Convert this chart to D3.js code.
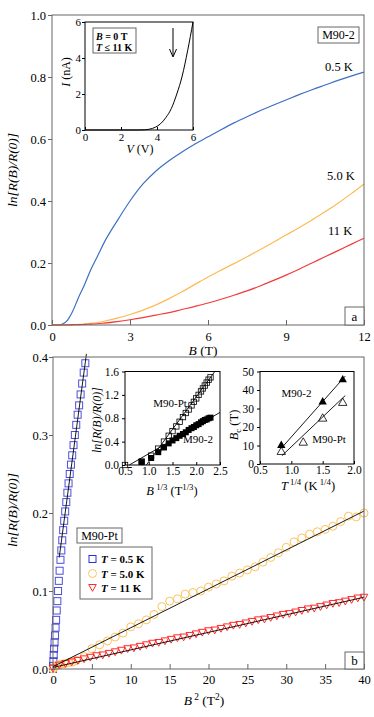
<!DOCTYPE html>
<html>
<head>
<meta charset="utf-8">
<script src="https://cdn.jsdelivr.net/npm/d3@7"></script>
<style>
  body { margin: 0; background: #fff; }
  svg text { font-family: "Liberation Serif", "Times New Roman", "DejaVu Serif", serif; fill: #000; }
</style>
</head>
<body>
<svg id="vis" width="374" height="717"></svg>
<script>
// ---- panel a: ln[R(B)/R(0)] vs B for M90-2 ----
const fieldB = [0, 0.2, 0.4, 0.6, 0.8, 1.0, 1.25, 1.5, 1.75, 2, 2.5, 3, 3.5, 4, 4.5, 5, 5.5, 6, 6.5, 7, 7.5, 8, 8.5, 9, 9.5, 10, 10.5, 11, 11.5, 12];
const lnR05K = [0, 0, 0.003, 0.016, 0.045, 0.085, 0.13, 0.18, 0.222, 0.265, 0.335, 0.4, 0.455, 0.497, 0.53, 0.558, 0.584, 0.607, 0.63, 0.652, 0.672, 0.691, 0.709, 0.726, 0.743, 0.759, 0.774, 0.789, 0.803, 0.816];
const lnR50K = [0, 0, 0, 0.001, 0.001, 0.002, 0.003, 0.005, 0.008, 0.012, 0.022, 0.034, 0.048, 0.065, 0.085, 0.107, 0.131, 0.155, 0.177, 0.198, 0.22, 0.243, 0.266, 0.29, 0.314, 0.339, 0.365, 0.393, 0.423, 0.455];
const lnR11K = [0, 0, 0, 0, 0.001, 0.001, 0.002, 0.003, 0.004, 0.006, 0.011, 0.017, 0.024, 0.032, 0.04, 0.05, 0.06, 0.071, 0.083, 0.096, 0.11, 0.126, 0.143, 0.161, 0.18, 0.2, 0.22, 0.24, 0.26, 0.28];
const curveLabels = ['0.5 K', '5.0 K', '11 K'];

// inset of panel a: I-V at B = 0
const ivV = [0, 1, 2, 3, 3.3, 3.6, 3.9, 4.2, 4.5, 4.8, 5.1, 5.4, 5.7, 6.0];
const ivI = [0, 0, 0, 0, 0.01, 0.05, 0.15, 0.35, 0.7, 1.2, 2.0, 3.0, 4.4, 6.0];

// ---- panel b: ln[R(B)/R(0)] vs B^2 for M90-Pt ----
const sqB2 = [0, 0.02, 0.05, 0.09, 0.14, 0.2, 0.26, 0.33, 0.4, 0.48, 0.56, 0.65, 0.75, 0.85, 0.96, 1.07, 1.19, 1.31, 1.44, 1.57, 1.71, 1.85, 2.0, 2.15, 2.31, 2.47, 2.64, 2.81, 2.99, 3.17, 3.36, 3.55, 3.75, 3.95, 4.16];
const sqLnR05 = [0, 0.004, 0.01, 0.018, 0.026, 0.034, 0.043, 0.053, 0.063, 0.075, 0.087, 0.1, 0.113, 0.126, 0.14, 0.152, 0.165, 0.178, 0.19, 0.202, 0.214, 0.226, 0.238, 0.25, 0.262, 0.274, 0.287, 0.3, 0.313, 0.326, 0.338, 0.352, 0.366, 0.38, 0.392];

const ciB2 = [0, 0.15, 0.4, 0.7, 1.0, 1.5, 2, 2.5, 3, 4, 5, 6, 7, 8, 9, 10, 11, 12, 13, 14, 15, 16, 17, 18, 19, 20, 21, 22, 23, 24, 25, 26, 27, 28, 29, 30, 31, 32, 33, 34, 35, 36, 37, 38, 39, 40];
const ciLnR50 = [0, 0.002, 0.004, 0.005, 0.006, 0.007, 0.008, 0.009, 0.011, 0.016, 0.026, 0.031, 0.036, 0.041, 0.046, 0.054, 0.058, 0.063, 0.07, 0.08, 0.087, 0.09, 0.096, 0.098, 0.1, 0.105, 0.109, 0.113, 0.119, 0.123, 0.127, 0.131, 0.137, 0.143, 0.149, 0.156, 0.163, 0.168, 0.173, 0.176, 0.179, 0.183, 0.189, 0.196, 0.195, 0.2];

const trB2 = [0, 0.8, 1.6, 2.4, 3.2, 4.0, 4.8, 5.6, 6.4, 7.2, 8.0, 8.8, 9.6, 10.4, 11.2, 12.0, 12.8, 13.6, 14.4, 15.2, 16.0, 16.8, 17.6, 18.4, 19.2, 20.0, 20.8, 21.6, 22.4, 23.2, 24.0, 24.8, 25.6, 26.4, 27.2, 28.0, 28.8, 29.6, 30.4, 31.2, 32.0, 32.8, 33.6, 34.4, 35.2, 36.0, 36.8, 37.6, 38.4, 39.2, 40.0];
const trLnR11 = [0.001, 0.005, 0.007, 0.009, 0.011, 0.013, 0.015, 0.017, 0.018, 0.02, 0.022, 0.024, 0.026, 0.027, 0.029, 0.031, 0.033, 0.034, 0.036, 0.038, 0.04, 0.041, 0.043, 0.045, 0.047, 0.049, 0.05, 0.052, 0.054, 0.056, 0.057, 0.059, 0.061, 0.063, 0.064, 0.066, 0.068, 0.07, 0.071, 0.073, 0.075, 0.077, 0.078, 0.08, 0.082, 0.084, 0.085, 0.087, 0.089, 0.091, 0.092];

// linear fits drawn over the symbols: [x0, y0, x1, y1]
const fit05 = [0.8, 0.143, 4.3, 0.404];
const fit50 = [0, 0.003, 40, 0.2025];
const fit11 = [0, 0.002, 40, 0.092];

const legendLabels = ['0.5 K', '5.0 K', '11 K'];

// inset 1 of panel b: ln vs B^(1/3)
const b13Pt = [0.5, 0.85, 1.05, 1.2, 1.32, 1.42, 1.5, 1.58, 1.65, 1.72, 1.78, 1.84, 1.9, 1.95, 2.0, 2.05, 2.1, 2.14, 2.18, 2.22, 2.26, 2.3];
const lnPt = [0, 0.06, 0.16, 0.28, 0.4, 0.5, 0.58, 0.66, 0.74, 0.82, 0.89, 0.95, 1.02, 1.08, 1.14, 1.2, 1.26, 1.31, 1.36, 1.41, 1.46, 1.5];
const b13M2 = [0.85, 1.05, 1.2, 1.32, 1.42, 1.5, 1.58, 1.65, 1.72, 1.78, 1.84, 1.9, 1.95, 2.0, 2.05, 2.1, 2.14, 2.18, 2.22, 2.26, 2.3];
const lnM2 = [0.05, 0.12, 0.22, 0.3, 0.37, 0.42, 0.46, 0.5, 0.53, 0.56, 0.6, 0.63, 0.65, 0.68, 0.7, 0.73, 0.75, 0.77, 0.78, 0.8, 0.81];
const fitPt13 = [0.95, 0, 2.4, 1.61];
const fitM213 = [0.59, 0, 2.5, 0.9];

// inset 2 of panel b: Bc vs T^(1/4)
const t14M2 = [0.84, 1.5, 1.82];
const bcM2 = [10.5, 34, 46];
const t14Pt = [0.84, 1.19, 1.5, 1.82];
const bcPt = [7, 12, 25, 33.5];
const fitBcM2 = [0.84, 8.5, 1.86, 47.5];
const fitBcPt = [0.85, 4.5, 1.86, 37];

const svg = d3.select('#vis');
const frameColor = '#666';
const serif = '"Liberation Serif", "Times New Roman", "DejaVu Serif", serif';

// text helper with italic / bold / super- and subscript parts
function rich(parent, x, y, parts, size, anchor, rotate) {
  const t = parent.append('text')
    .attr('x', x).attr('y', y)
    .attr('font-size', size)
    .attr('text-anchor', anchor || 'middle');
  if (rotate) t.attr('transform', `rotate(${rotate},${x},${y})`);
  let shift = 0;
  parts.forEach(p => {
    const s = t.append('tspan').text(p.t);
    const target = p.sup ? -size * 0.4 : p.sub ? size * 0.25 : 0;
    if (target !== shift) {
      s.attr('dy', target - shift);
      shift = target;
    }
    if (p.sup || p.sub) s.attr('font-size', size * 0.7);
    if (p.i) s.attr('font-style', 'italic');
    if (p.b) s.attr('font-weight', 'bold');
  });
  return t;
}

function styleAxis(g, size, color) {
  g.attr('font-family', null).attr('font-size', size);
  g.select('.domain').remove();
  g.selectAll('.tick line').attr('stroke', color);
  g.selectAll('.tick text').attr('fill', '#000');
}

function box(x, y, w, h, color) {
  svg.append('rect')
    .attr('x', x).attr('y', y).attr('width', w).attr('height', h)
    .attr('fill', 'none').attr('stroke', color || frameColor).attr('stroke-width', 1);
}

function labelBox(x, y, w, h, label, size) {
  svg.append('rect')
    .attr('x', x).attr('y', y).attr('width', w).attr('height', h)
    .attr('fill', '#fff').attr('stroke', frameColor);
  svg.append('text')
    .attr('x', x + w / 2).attr('y', y + h / 2 + size * 0.35)
    .attr('text-anchor', 'middle').attr('font-size', size)
    .text(label);
}

function fitLine(g, xs, ys, f) {
  g.append('line')
    .attr('x1', xs(f[0])).attr('y1', ys(f[1]))
    .attr('x2', xs(f[2])).attr('y2', ys(f[3]))
    .attr('stroke', '#000').attr('stroke-width', 0.9);
}

// ================= panel a =================
const xA = d3.scaleLinear().domain([0, 12]).range([52, 364]);
const yA = d3.scaleLinear().domain([0, 1]).range([325, 15]);

svg.append('g')
  .attr('transform', 'translate(0,325)')
  .call(d3.axisBottom(xA).tickValues([0, 3, 6, 9, 12]).tickSizeInner(-5).tickSizeOuter(0).tickPadding(7).tickFormat(d3.format('d')))
  .call(g => styleAxis(g, 12.5, frameColor));
svg.append('g')
  .attr('transform', 'translate(52,0)')
  .call(d3.axisLeft(yA).tickValues([0, 0.2, 0.4, 0.6, 0.8, 1.0]).tickSizeInner(4).tickSizeOuter(0).tickPadding(2).tickFormat(d3.format('.1f')))
  .call(g => styleAxis(g, 12.5, frameColor));

const lineA = d3.line()
  .x((d, i) => xA(fieldB[i]))
  .y(d => yA(d))
  .curve(d3.curveMonotoneX);

const seriesA = [
  { values: lnR05K, color: '#3d6fc4' },
  { values: lnR50K, color: '#fdbb55' },
  { values: lnR11K, color: '#f23b3b' },
];
seriesA.forEach(s => {
  svg.append('path')
    .attr('d', lineA(s.values))
    .attr('fill', 'none')
    .attr('stroke', s.color)
    .attr('stroke-width', 1.2);
});

box(52, 15, 312, 310);

// curve labels
[[325, 71], [327, 180], [328, 235]].forEach((p, i) => {
  svg.append('text').attr('x', p[0]).attr('y', p[1]).attr('font-size', 12.5).text(curveLabels[i]);
});
labelBox(318, 27, 41, 16, 'M90-2', 12);
labelBox(345, 307, 19, 18, 'a', 13);

rich(svg, 17, 170, [{ t: 'ln[R(B)/R(0)]', i: true }], 13.5, 'middle', -90);
rich(svg, 203, 355, [{ t: 'B', i: true }, { t: ' (T)' }], 13.5, 'middle');

// inset: I-V
const xI = d3.scaleLinear().domain([0, 6]).range([85, 193]);
const yI = d3.scaleLinear().domain([0, 6]).range([130, 22]);
svg.append('rect').attr('x', 85).attr('y', 22).attr('width', 108).attr('height', 108).attr('fill', '#fff');
svg.append('g')
  .attr('transform', 'translate(0,130)')
  .call(d3.axisBottom(xI).tickValues([0, 2, 4, 6]).tickSizeInner(-3).tickSizeOuter(0).tickPadding(3).tickFormat(d3.format('d')))
  .call(g => styleAxis(g, 11, '#000'));
svg.append('g')
  .attr('transform', 'translate(85,0)')
  .call(d3.axisLeft(yI).tickValues([0, 2, 4, 6]).tickSizeInner(3).tickSizeOuter(0).tickPadding(1).tickFormat(d3.format('d')))
  .call(g => styleAxis(g, 11, '#000'));
svg.append('path')
  .attr('d', d3.line().x((d, i) => xI(ivV[i])).y(d => yI(d)).curve(d3.curveMonotoneX)(ivI))
  .attr('fill', 'none').attr('stroke', '#000').attr('stroke-width', 1);
box(85, 22, 108, 108, '#000');

// arrow
svg.append('line').attr('x1', 173).attr('y1', 28).attr('x2', 173).attr('y2', 56).attr('stroke', '#000');
svg.append('path').attr('d', 'M169.5,49 L173,57 L176.5,49').attr('fill', 'none').attr('stroke', '#000');

svg.append('rect').attr('x', 93).attr('y', 28).attr('width', 43).attr('height', 25).attr('fill', '#fff').attr('stroke', frameColor);
rich(svg, 96, 40, [{ t: 'B', i: true, b: true }, { t: ' = 0 T', b: true }], 10, 'start');
rich(svg, 96, 50.5, [{ t: 'T', i: true, b: true }, { t: ' ≤ 11 K', b: true }], 10, 'start');

rich(svg, 70, 72, [{ t: 'I', i: true }, { t: ' (nA)' }], 12, 'middle', -90);
rich(svg, 140, 153, [{ t: 'V', i: true }, { t: ' (V)' }], 12, 'middle');

// ================= panel b =================
const xB = d3.scaleLinear().domain([0, 40]).range([53, 364]);
const yB = d3.scaleLinear().domain([0, 0.4]).range([669, 357]);

svg.append('g')
  .attr('transform', 'translate(0,669)')
  .call(d3.axisBottom(xB).tickValues(d3.range(0, 41, 5)).tickSizeInner(-5).tickSizeOuter(0).tickPadding(6).tickFormat(d3.format('d')))
  .call(g => styleAxis(g, 12.5, frameColor));
svg.append('g')
  .attr('transform', 'translate(53,0)')
  .call(d3.axisLeft(yB).tickValues([0, 0.1, 0.2, 0.3, 0.4]).tickSizeInner(4).tickSizeOuter(0).tickPadding(1).tickFormat(d3.format('.1f')))
  .call(g => styleAxis(g, 12.5, frameColor));

const plotB = svg.append('g');
const blueSq = '#2e2ed6';
const orangeCi = '#fdc35e';
const redTr = '#ff2a2a';
const triPath = 'M-3.8,-3 L3.8,-3 L0,3.8 Z';

plotB.selectAll('rect.sq')
  .data(sqLnR05)
  .enter()
  .append('rect')
  .attr('class', 'sq')
  .attr('x', (d, i) => xB(sqB2[i]) - 3.5)
  .attr('y', d => yB(d) - 3.5)
  .attr('width', 7).attr('height', 7)
  .attr('fill', 'none').attr('stroke', blueSq).attr('stroke-width', 1).attr('stroke-opacity', 0.85);

plotB.selectAll('circle.ci')
  .data(ciLnR50)
  .enter()
  .append('circle')
  .attr('class', 'ci')
  .attr('cx', (d, i) => xB(ciB2[i]))
  .attr('cy', d => yB(d))
  .attr('r', 4)
  .attr('fill', 'none').attr('stroke', orangeCi).attr('stroke-width', 1);

plotB.selectAll('path.tr')
  .data(trLnR11)
  .enter()
  .append('path')
  .attr('class', 'tr')
  .attr('transform', (d, i) => `translate(${xB(trB2[i])},${yB(d)})`)
  .attr('d', triPath)
  .attr('fill', 'none').attr('stroke', redTr).attr('stroke-width', 1);

fitLine(plotB, xB, yB, fit05);
fitLine(plotB, xB, yB, fit50);
fitLine(plotB, xB, yB, fit11);

box(53, 357, 311, 312);
labelBox(345, 652, 19, 17, 'b', 13);
labelBox(77, 528, 45, 15, 'M90-Pt', 12);

// legend
svg.append('rect').attr('x', 80).attr('y', 547).attr('width', 72).attr('height', 52).attr('fill', '#fff').attr('stroke', frameColor);
const legY = [559, 573.5, 588];
svg.append('rect').attr('x', 89).attr('y', legY[0] - 3.5).attr('width', 7).attr('height', 7).attr('fill', 'none').attr('stroke', blueSq);
svg.append('circle').attr('cx', 92.5).attr('cy', legY[1]).attr('r', 4).attr('fill', 'none').attr('stroke', orangeCi);
svg.append('path').attr('transform', `translate(92.5,${legY[2] - 0.5})`).attr('d', triPath).attr('fill', 'none').attr('stroke', redTr);
legendLabels.forEach((lab, i) => {
  rich(svg, 101, legY[i] + 4, [{ t: 'T', i: true, b: true }, { t: ' = ' + lab, b: true }], 11, 'start');
});

rich(svg, 17, 510, [{ t: 'ln[R(B)/R(0)]', i: true }], 13.5, 'middle', -90);
rich(svg, 204, 705, [{ t: 'B', i: true }, { t: ' 2', sup: true }, { t: ' (T' }, { t: '2', sup: true }, { t: ')' }], 13.5, 'middle');

// inset 1: ln vs B^(1/3)
const x1 = d3.scaleLinear().domain([0.5, 2.5]).range([125, 220]);
const y1 = d3.scaleLinear().domain([0, 1.6]).range([465, 371.5]);
svg.append('g')
  .attr('transform', 'translate(0,465)')
  .call(d3.axisBottom(x1).tickValues([0.5, 1.0, 1.5, 2.0, 2.5]).tickSizeInner(-3).tickSizeOuter(0).tickPadding(2).tickFormat(d3.format('.1f')))
  .call(g => styleAxis(g, 11.5, '#000'));
svg.append('g')
  .attr('transform', 'translate(125,0)')
  .call(d3.axisLeft(y1).tickValues([0, 0.4, 0.8, 1.2, 1.6]).tickSizeInner(3).tickSizeOuter(0).tickPadding(3).tickFormat(d3.format('.1f')))
  .call(g => styleAxis(g, 11.5, '#000'));
const in1 = svg.append('g');
in1.selectAll('rect.pt')
  .data(lnPt)
  .enter()
  .append('rect')
  .attr('class', 'pt')
  .attr('x', (d, i) => x1(b13Pt[i]) - 2.7)
  .attr('y', d => y1(d) - 2.7)
  .attr('width', 5.4).attr('height', 5.4)
  .attr('fill', 'none').attr('stroke', '#000').attr('stroke-width', 0.8);
in1.selectAll('rect.m2')
  .data(lnM2)
  .enter()
  .append('rect')
  .attr('class', 'm2')
  .attr('x', (d, i) => x1(b13M2[i]) - 3)
  .attr('y', d => y1(d) - 3)
  .attr('width', 6).attr('height', 6)
  .attr('fill', '#000');
fitLine(in1, x1, y1, fitPt13);
fitLine(in1, x1, y1, fitM213);
box(125, 371.5, 95, 93.5, '#000');
svg.append('text').attr('x', 170).attr('y', 407).attr('text-anchor', 'middle').attr('font-size', 11).text('M90-Pt');
svg.append('text').attr('x', 198).attr('y', 443).attr('text-anchor', 'middle').attr('font-size', 11).text('M90-2');
rich(svg, 101, 420, [{ t: 'ln[R(B)/R(0)]', i: true }], 12, 'middle', -90);
rich(svg, 172, 495, [{ t: 'B', i: true }, { t: ' 1/3', sup: true }, { t: ' (T' }, { t: '1/3', sup: true }, { t: ')' }], 12.5, 'middle');

// inset 2: Bc vs T^(1/4)
const x2 = d3.scaleLinear().domain([0.5, 2.0]).range([260, 354]);
const y2 = d3.scaleLinear().domain([0, 50]).range([464, 371.5]);
svg.append('g')
  .attr('transform', 'translate(0,464)')
  .call(d3.axisBottom(x2).tickValues([0.5, 1.0, 1.5, 2.0]).tickSizeInner(-3).tickSizeOuter(0).tickPadding(2).tickFormat(d3.format('.1f')))
  .call(g => styleAxis(g, 11.5, '#000'));
svg.append('g')
  .attr('transform', 'translate(260,0)')
  .call(d3.axisLeft(y2).tickValues([0, 10, 20, 30, 40, 50]).tickSizeInner(3).tickSizeOuter(0).tickPadding(3).tickFormat(d3.format('d')))
  .call(g => styleAxis(g, 11.5, '#000'));
const in2 = svg.append('g');
const upTri = 'M-4.2,3.4 L4.2,3.4 L0,-4 Z';
in2.selectAll('path.m2')
  .data(bcM2)
  .enter()
  .append('path')
  .attr('class', 'm2')
  .attr('transform', (d, i) => `translate(${x2(t14M2[i])},${y2(d)})`)
  .attr('d', upTri)
  .attr('fill', '#000');
in2.selectAll('path.pt')
  .data(bcPt)
  .enter()
  .append('path')
  .attr('class', 'pt')
  .attr('transform', (d, i) => `translate(${x2(t14Pt[i])},${y2(d)})`)
  .attr('d', upTri)
  .attr('fill', 'none').attr('stroke', '#000').attr('stroke-width', 0.8);
fitLine(in2, x2, y2, fitBcM2);
fitLine(in2, x2, y2, fitBcPt);
box(260, 371.5, 94, 92.5, '#000');
svg.append('text').attr('x', 296.5).attr('y', 397).attr('text-anchor', 'middle').attr('font-size', 11).text('M90-2');
svg.append('text').attr('x', 329).attr('y', 443).attr('text-anchor', 'middle').attr('font-size', 11).text('M90-Pt');
rich(svg, 238, 425, [{ t: 'B', i: true }, { t: 'c', sub: true }, { t: ' (T)' }], 12.5, 'middle', -90);
rich(svg, 308, 490, [{ t: 'T', i: true }, { t: ' 1/4', sup: true }, { t: ' (K' }, { t: ' 1/4', sup: true }, { t: ')' }], 12.5, 'middle');

// make sure every label uses the serif face
svg.selectAll('text').style('font-family', serif);
</script>
</body>
</html>
